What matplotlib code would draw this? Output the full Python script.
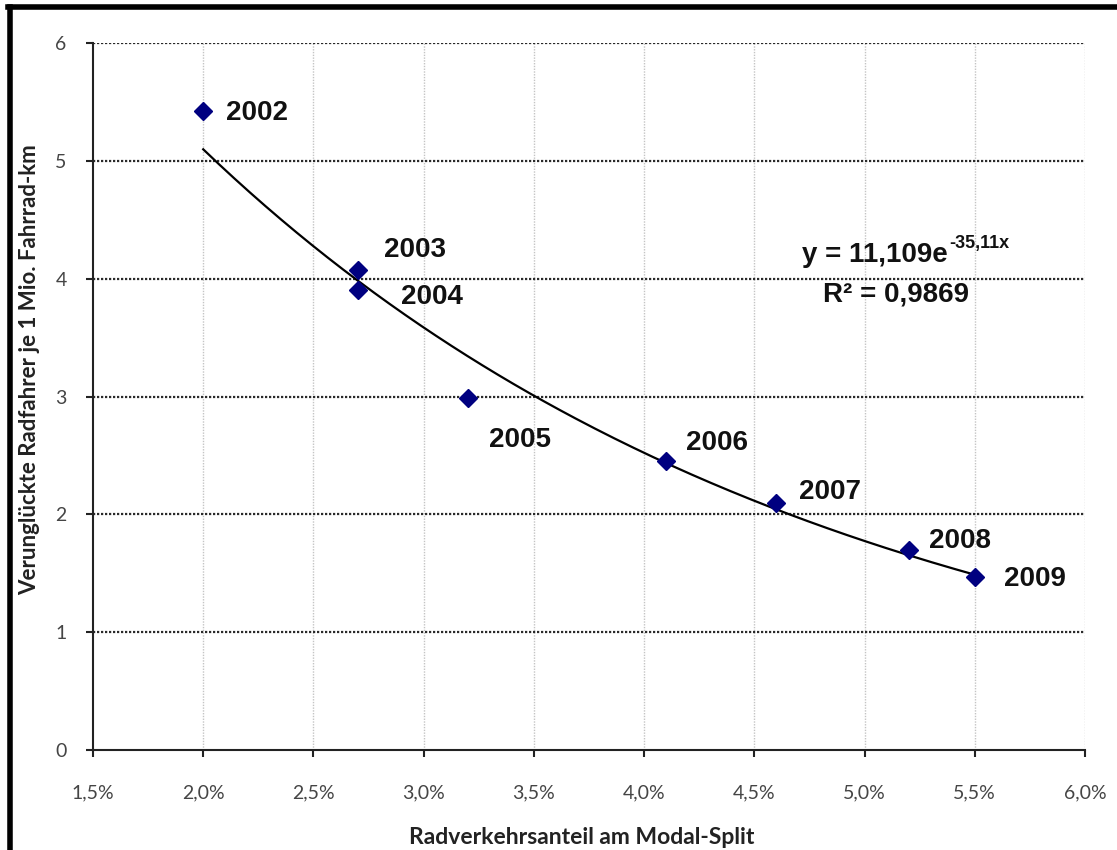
import numpy as np
import matplotlib
matplotlib.use("Agg")
import matplotlib.pyplot as plt
from matplotlib.lines import Line2D
from matplotlib.ticker import FuncFormatter

# ---- data ----
years = ["2002", "2003", "2004", "2005", "2006", "2007", "2008", "2009"]
modal_share = [0.020, 0.027, 0.027, 0.032, 0.041, 0.046, 0.052, 0.055]
accidents = [5.42, 4.07, 3.90, 2.99, 2.45, 2.10, 1.70, 1.47]
x_ticks = [0.015, 0.020, 0.025, 0.030, 0.035, 0.040, 0.045, 0.050, 0.055, 0.060]
y_ticks = [0, 1, 2, 3, 4, 5, 6]
equation_main = "y = 11,109e"
equation_exp = "-35,11x"
r_squared = "R\u00b2 = 0,9869"
x_title = "Radverkehrsanteil am Modal-Split"
y_title = "Verunglückte Radfahrer je 1 Mio. Fahrrad-km"

# label offsets in pixels (styling)
label_offsets = [(23, -2), (26, 20), (43, -7), (21, -42), (20, 18), (23, 11), (20, 9), (29, -2)]

W, H = 1117, 850
fig = plt.figure(figsize=(W / 100, H / 100), dpi=100)
fig.patch.set_facecolor("white")

ax = fig.add_axes([93 / W, 1 - 750 / H, (1085 - 93) / W, (750 - 43) / H])
ax.set_xlim(x_ticks[0], x_ticks[-1])
ax.set_ylim(y_ticks[0], y_ticks[-1])
ax.set_xticks(x_ticks)
ax.set_yticks(y_ticks)
ax.xaxis.set_major_formatter(FuncFormatter(lambda v, p: f"{v * 100:.1f}%".replace(".", ",")))
ax.yaxis.set_major_formatter(FuncFormatter(lambda v, p: f"{v:.0f}"))

for s in ["top", "right"]:
    ax.spines[s].set_visible(False)
for s in ["left", "bottom"]:
    ax.spines[s].set_color("#222222")
    ax.spines[s].set_linewidth(1.5)

ax.tick_params(axis="both", direction="out", length=5, width=1.5, color="#222222",
               labelsize=14, labelcolor="#454545")
ax.tick_params(axis="y", pad=14)
ax.tick_params(axis="x", pad=20)
for lab in ax.get_xticklabels() + ax.get_yticklabels():
    lab.set_fontfamily("Lato")

# grid lines
for xv in x_ticks[1:]:
    ax.axvline(xv, color="#c4c4c4", lw=1.0, ls=(0, (1, 1)), zorder=0)
for yv in y_ticks[1:]:
    ax.axhline(yv, color="#2a2a2a", lw=1.6, ls=(0, (1, 0.8)), zorder=1)

# trend line (exponential fit to the data)
b, lna = np.polyfit(modal_share, np.log(accidents), 1)
xs = np.linspace(min(modal_share), max(modal_share), 200)
ax.plot(xs, np.exp(lna) * np.exp(b * xs), color="black", lw=1.6, zorder=3)

# data points
ax.plot(modal_share, accidents, ls="none", marker="D", markersize=9,
        color="#000080", zorder=4)

for xv, yv, yr, (dx, dy) in zip(modal_share, accidents, years, label_offsets):
    ax.annotate(yr, (xv, yv), xytext=(dx, dy), textcoords="offset pixels",
                ha="left", va="center", fontsize=20, fontweight="bold",
                family="Liberation Sans", color="#111111")

# equation
fig.text(948 / W, 1 - 262 / H, equation_main, ha="right", va="baseline",
         fontsize=20, fontweight="bold", family="Liberation Sans", color="#111111")
fig.text(949 / W, 1 - 248 / H, equation_exp, ha="left", va="baseline",
         fontsize=13, fontweight="bold", family="Liberation Sans", color="#111111")
fig.text(896 / W, 1 - 302 / H, r_squared, ha="center", va="baseline",
         fontsize=20, fontweight="bold", family="Liberation Sans", color="#111111")

# axis titles
fig.text(582 / W, 1 - 838 / H, x_title, ha="center", va="center",
         fontsize=16.5, fontweight="bold", family="Lato", color="#222222")
fig.text(30 / W, 1 - 370 / H, y_title, ha="center", va="center", rotation=90,
         fontsize=16, fontweight="bold", family="Lato", color="#222222")

# outer frame (top and left visible)
fig.add_artist(Line2D([10 / W, 10 / W], [0, 1 - 7 / H], transform=fig.transFigure,
                      color="black", lw=4))
fig.add_artist(Line2D([8 / W, 1], [1 - 7 / H, 1 - 7 / H], transform=fig.transFigure,
                      color="black", lw=4))

fig.savefig("out.png", dpi=100, facecolor="white")
